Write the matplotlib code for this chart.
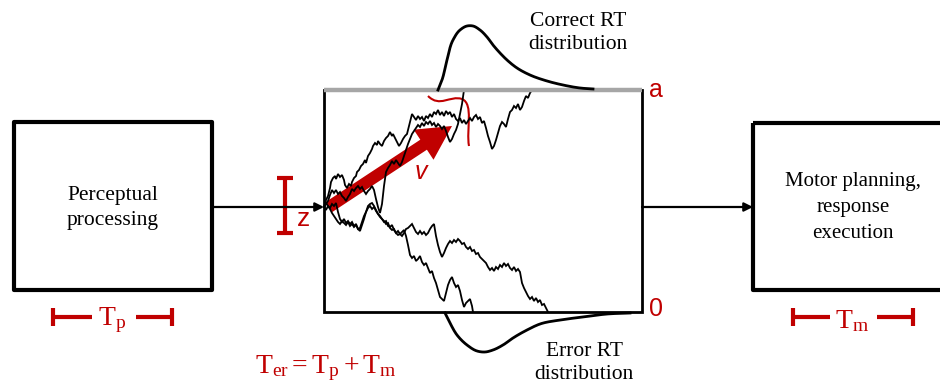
import matplotlib
matplotlib.use("Agg")
import matplotlib.pyplot as plt
import numpy as np
from matplotlib.patches import Rectangle, FancyArrow
from matplotlib.path import Path
from matplotlib.patches import PathPatch

plt.rcParams['mathtext.fontset'] = 'custom'
plt.rcParams['mathtext.rm'] = 'Liberation Serif'
plt.rcParams['mathtext.it'] = 'Liberation Serif:italic'

RED = '#c00000'
SERIF = 'Liberation Serif'
SANS = 'Liberation Sans'

# labels
stage_left = "Perceptual\nprocessing"
stage_right = "Motor planning,\nresponse\nexecution"
correct_label = "Correct RT\ndistribution"
error_label = "Error RT\ndistribution"
bound_upper = "a"
bound_lower = "0"
start_label = "z"
drift_label = "v"
tp_label = r'$\mathrm{T}_{\mathrm{p}}$'
tm_label = r'$\mathrm{T}_{\mathrm{m}}$'
ter_label = r'$\mathrm{T}_{\mathrm{er}} = \mathrm{T}_{\mathrm{p}} + \mathrm{T}_{\mathrm{m}}$'

# sample paths (screen units)
walk_up1 = [(324,207),(326,200),(328,196),(330,188),(331,182),(333,178),(335,176),(336,179),
    (338,174),(340,177),(342,175),(344,180),(345,185),(347,188),(349,184),(351,186),(352,182),
    (354,178),(356,176),(357,172),(359,170),(361,166),(363,164),(365,160),(366,163),(368,156),
    (370,153),(372,149),(373,146),(375,143),(377,145),(378,141),(380,144),(382,146),(384,141),
    (386,138),(388,136),(390,132),(392,136),(393,134),(395,138),(397,142),(399,146),(401,143),
    (403,139),(405,136),(407,134),(409,126),(411,118),(412,114),(414,117),(416,120),(418,116),
    (420,119),(422,117),(424,121),(426,116),(428,118),(430,114),(432,117),(434,112),(436,114),
    (438,110),(440,115),(442,112),(444,116),(446,111),(448,114),(450,112),(452,117),(454,114),
    (456,119),(458,121),(460,118),(462,123),(464,120),(466,124),(468,121),(470,118),(472,121),
    (474,117),(476,115),(478,119),(480,117),(482,123),(484,121),(486,128),(488,136),(490,142),
    (492,149),(494,146),(496,140),(498,133),(500,126),(502,122),(504,124),(506,127),(508,119),
    (510,112),(512,110),(514,106),(516,108),(518,104),(520,110),(522,107),(524,101),(526,96),
    (528,98),(530,93),(532,90)]
walk_up2 = [(324,207),(326,204),(328,201),(330,195),(332,190),(334,193),(336,190),(338,194),
    (340,192),(342,196),(344,198),(346,201),(348,197),(350,194),(352,189),(354,191),(356,188),
    (358,186),(360,189),(362,187),(364,191),(366,194),(368,191),(370,189),(372,186),(374,190),
    (376,199),(378,207),(380,213),(382,204),(383,195),(384,186),(385,179),(386,172),(388,168),
    (390,165),(392,161),(394,164),(396,160),(398,163),(400,166),(402,162),(404,156),(406,150),
    (408,144),(410,139),(412,134),(414,131),(416,128),(418,125),(420,127),(422,123),(424,126),
    (426,122),(428,124),(430,121),(432,125),(434,123),(436,127),(438,124),(440,126),(442,129),
    (444,126),(446,131),(448,137),(450,142),(452,139),(454,134),(456,130),(458,124),(460,114),
    (462,104),(463,97),(464,90)]
walk_low1 = [(324,207),(326,210),(328,206),(330,208),(332,204),(334,206),(336,203),(338,212),
    (340,219),(342,222),(344,219),(346,223),(348,221),(350,224),(352,222),(354,226),(356,224),
    (358,229),(360,231),(362,225),(364,219),(366,212),(368,206),(370,204),(372,203),(374,206),
    (376,210),(378,214),(380,217),(382,219),(384,222),(386,221),(388,226),(390,227),(392,225),
    (394,230),(396,233),(398,231),(400,234),(402,232),(404,230),(406,236),(408,245),(410,255),
    (412,258),(414,256),(416,261),(418,259),(420,256),(422,262),(424,265),(426,263),(428,268),
    (430,273),(432,271),(434,278),(436,283),(438,290),(440,297),(442,299),(444,301),(446,293),
    (448,285),(450,280),(452,277),(454,283),(456,287),(458,285),(460,291),(462,300),(464,307),
    (466,303),(468,301),(470,299),(472,306),(473,312)]
walk_low2 = [(324,207),(326,203),(328,206),(330,209),(332,213),(334,216),(336,219),(338,222),
    (340,224),(342,221),(344,223),(346,225),(348,222),(350,226),(352,224),(354,227),(356,225),
    (358,229),(360,228),(362,222),(364,216),(366,212),(368,208),(370,206),(372,209),(374,207),
    (376,211),(378,214),(380,216),(382,219),(384,221),(386,224),(388,223),(390,228),(392,230),
    (394,229),(396,233),(398,235),(400,234),(402,236),(404,233),(406,229),(408,228),(410,226),
    (412,224),(414,228),(416,232),(418,234),(420,231),(422,234),(424,232),(426,235),(428,233),
    (430,229),(432,226),(434,224),(436,236),(438,245),(440,252),(442,257),(444,253),(446,248),
    (448,244),(450,241),(452,243),(454,240),(456,242),(458,239),(460,241),(462,244),(464,243),
    (466,247),(468,249),(470,247),(472,251),(474,250),(476,254),(478,253),(480,257),(482,259),
    (484,261),(486,263),(488,267),(490,270),(492,268),(494,271),(496,267),(498,269),(500,265),
    (502,267),(504,263),(506,266),(508,264),(510,268),(512,270),(514,267),(516,271),(518,269),
    (520,272),(522,283),(524,288),(526,292),(528,296),(530,299),(532,297),(534,301),(536,298),
    (538,302),(540,300),(542,305),(544,304),(546,308),(548,312)]

# RT distributions
correct_rt_x = [438, 442, 447, 453, 460, 467, 473, 480, 487, 493, 500, 507, 517, 530, 547, 563, 580, 593]
correct_rt_y = [90, 80, 60, 40, 30, 26, 26, 30, 37, 45, 53, 60, 68, 75, 81, 85, 88, 89]
error_rt_x = [445, 450, 457, 467, 477, 485, 493, 503, 513, 527, 540, 560, 583, 607, 630]
error_rt_y = [313, 323, 335, 345, 351, 352, 350, 345, 338, 330, 324, 320, 317, 314, 313]


def smooth(xs, ys, n=300):
    # piecewise-cubic through the read points
    xs = np.asarray(xs, float)
    ys = np.asarray(ys, float)
    t = np.concatenate([[0], np.cumsum(np.hypot(np.diff(xs), np.diff(ys)))])
    tt = np.linspace(0, t[-1], n)
    out = []
    for arr in (xs, ys):
        d = np.gradient(arr, t)
        res = np.empty_like(tt)
        for k, v in enumerate(tt):
            i = min(np.searchsorted(t, v, side='right') - 1, len(t) - 2)
            h = t[i + 1] - t[i]
            s = (v - t[i]) / h
            h00 = 2*s**3 - 3*s**2 + 1
            h10 = s**3 - 2*s**2 + s
            h01 = -2*s**3 + 3*s**2
            h11 = s**3 - s**2
            res[k] = h00*arr[i] + h10*h*d[i] + h01*arr[i+1] + h11*h*d[i+1]
        out.append(res)
    return out


fig = plt.figure(figsize=(9.4, 3.89), dpi=100)
ax = fig.add_axes([0, 0, 1, 1])
ax.set_xlim(0, 940)
ax.set_ylim(389, 0)
ax.axis('off')

# stage boxes
ax.add_patch(Rectangle((14, 122), 198, 168, fill=False, lw=3.0, ec='k', joinstyle='round'))
ax.add_patch(Rectangle((753, 123), 260, 167, fill=False, lw=3.0, ec='k', joinstyle='round'))
ax.text(113, 208, stage_left, family=SERIF, fontsize=15.5, ha='center', va='center', linespacing=1.4)
ax.text(853, 207, stage_right, family=SERIF, fontsize=15, ha='center', va='center', linespacing=1.5)

# connecting arrows
for x0, x1 in [(212, 324), (642, 753)]:
    ax.annotate('', xy=(x1, 207), xytext=(x0, 207),
                arrowprops=dict(arrowstyle='-|>', lw=1.6, color='k', mutation_scale=13,
                                shrinkA=0, shrinkB=0))

# diffusion box
for w in (walk_up1, walk_up2, walk_low1, walk_low2):
    w = np.array(w)
    ax.plot(w[:, 0], w[:, 1], color='k', lw=1.3, solid_joinstyle='miter')
ax.plot([324, 324, 642, 642], [90, 312, 312, 90], color='k', lw=2.0, solid_joinstyle='miter')
ax.plot([324, 642], [90, 90], color='#a6a6a6', lw=3.2, solid_capstyle='butt')

# RT distributions
cx, cy = smooth(correct_rt_x, correct_rt_y)
ax.plot(cx, cy, color='k', lw=2.0)
ex, ey = smooth(error_rt_x, error_rt_y)
ax.plot(ex, ey, color='k', lw=2.0)
ax.text(578, 33, correct_label, family=SERIF, fontsize=15.5, ha='center', va='center', linespacing=1.35)
ax.text(584, 363, error_label, family=SERIF, fontsize=15.5, ha='center', va='center', linespacing=1.35)

# boundaries
ax.text(649, 90, bound_upper, family=SANS, fontsize=18, color=RED, ha='left', va='center')
ax.text(649, 309, bound_lower, family=SANS, fontsize=18, color=RED, ha='left', va='center')

# drift arrow
ax.add_patch(FancyArrow(329, 207, 123, -81, width=12, head_width=36, head_length=34,
                        length_includes_head=True, color=RED, lw=0))
ax.text(421, 172, drift_label, family=SANS, fontsize=18, color=RED, style='italic',
        ha='center', va='center')
squiggle = Path([(428, 96), (440, 108), (450, 95), (462, 99), (474, 104), (466, 130), (469, 146)],
                [Path.MOVETO, Path.CURVE4, Path.CURVE4, Path.CURVE4, Path.CURVE4, Path.CURVE4, Path.CURVE4])
ax.add_patch(PathPatch(squiggle, fill=False, ec=RED, lw=1.5))

# starting point bracket
ax.plot([285, 285], [178, 233], color=RED, lw=3.0, solid_capstyle='butt')
ax.plot([277, 293], [178, 178], color=RED, lw=3.0, solid_capstyle='butt')
ax.plot([277, 293], [233, 233], color=RED, lw=3.0, solid_capstyle='butt')
ax.text(304, 219, start_label, family=SANS, fontsize=19, color=RED, ha='center', va='center')

# non-decision time brackets
def time_bracket(xl, xr, gl, gr, y, label, xc):
    ax.plot([xl, gl], [y, y], color=RED, lw=3.0, solid_capstyle='butt')
    ax.plot([gr, xr], [y, y], color=RED, lw=3.0, solid_capstyle='butt')
    ax.plot([xl, xl], [308, 326], color=RED, lw=3.0, solid_capstyle='butt')
    ax.plot([xr, xr], [308, 326], color=RED, lw=3.0, solid_capstyle='butt')
    ax.text(xc, y + 3, label, fontsize=20, color=RED, ha='center', va='center')

time_bracket(53, 172, 92, 136, 317, tp_label, 112)
time_bracket(793, 913, 830, 877, 317, tm_label, 852)

ax.text(326, 368, ter_label, fontsize=20, color=RED, ha='center', va='center')

fig.savefig('out.png', dpi=100)
